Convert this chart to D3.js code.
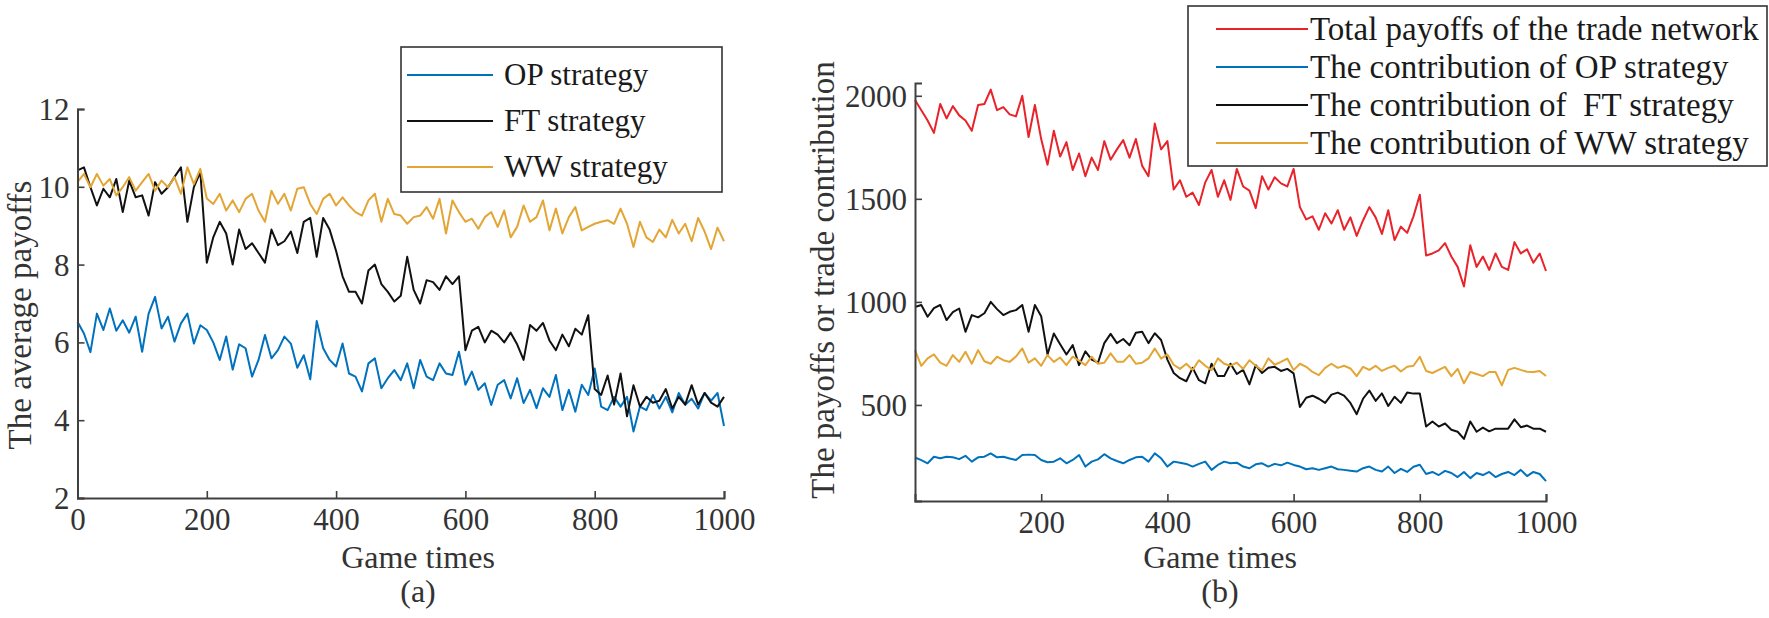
<!DOCTYPE html>
<html>
<head>
<meta charset="utf-8">
<script src="https://cdn.jsdelivr.net/npm/d3@7"></script>
<style>
  body { margin: 0; background: #fff; }
  text { font-family: "Liberation Serif", "Times New Roman", serif; }
</style>
</head>
<body>
<svg id="fig" width="1769" height="618"></svg>
<script>
// game times, one reading every 10 steps
const gameTimes = d3.range(0, 1001, 10);

// panel (a): average payoffs
const opAvg = [
  6.53, 6.23, 5.75, 6.74, 6.32, 6.87, 6.3, 6.57, 6.25, 6.66,
  5.76, 6.74, 7.17, 6.36, 6.66, 6.02, 6.49, 6.74, 5.97, 6.44,
  6.32, 6.0, 5.55, 6.15, 5.3, 5.95, 5.85, 5.12, 5.55, 6.19,
  5.59, 5.8, 6.15, 5.97, 5.35, 5.67, 5.05, 6.55, 5.85, 5.55,
  5.38, 5.97, 5.2, 5.12, 4.74, 5.46, 5.59, 4.82, 5.08, 5.29,
  5.03, 5.46, 4.82, 5.55, 5.12, 5.03, 5.46, 5.2, 5.16, 5.76,
  4.91, 5.25, 4.78, 4.95, 4.39, 4.91, 5.03, 4.56, 5.08, 4.44,
  4.78, 4.31, 4.82, 4.6, 5.16, 4.26, 4.78, 4.22, 4.91, 4.65,
  5.33, 4.35, 4.26, 4.6, 4.35, 4.6, 3.71, 4.35, 4.26, 4.65,
  4.3, 4.6, 4.2, 4.7, 4.4, 4.55, 4.3, 4.7, 4.5, 4.7,
  3.85
];
const ftAvg = [
  10.42, 10.5, 9.99, 9.52, 9.95, 9.73, 10.2, 9.35, 10.16, 9.73,
  9.78, 9.26, 10.12, 9.82, 9.99, 10.25, 10.5, 9.1, 9.99, 10.38,
  8.05, 8.7, 9.1, 8.8, 8.0, 8.9, 8.4, 8.55, 8.3, 8.05,
  8.9, 8.5, 8.6, 8.85, 8.3, 9.1, 9.2, 8.2, 9.2, 8.9,
  8.35, 7.7, 7.3, 7.3, 7.0, 7.85, 8.0, 7.5, 7.3, 7.05,
  7.2, 8.2, 7.35, 7.0, 7.6, 7.55, 7.35, 7.7, 7.5, 7.7,
  5.8, 6.3, 6.4, 6.0, 6.3, 6.2, 6.0, 6.25, 5.95, 5.55,
  6.45, 6.3, 6.5, 6.05, 5.8, 6.2, 5.9, 6.35, 6.2, 6.7,
  4.8, 4.65, 5.15, 4.4, 5.2, 4.1, 4.9, 4.35, 4.6, 4.45,
  4.5, 4.8, 4.3, 4.6, 4.4, 4.9, 4.4, 4.7, 4.45, 4.35,
  4.6
];
const wwAvg = [
  10.12, 10.33, 9.99, 10.33, 10.03, 10.2, 9.78, 9.99, 10.25, 9.9,
  10.12, 10.33, 9.9, 10.16, 9.99, 10.25, 9.82, 10.5, 10.07, 10.46,
  9.7, 9.56, 9.82, 9.39, 9.65, 9.35, 9.69, 9.82, 9.39, 9.1,
  9.9, 9.56, 9.82, 9.39, 9.95, 9.99, 9.56, 9.3, 9.69, 9.82,
  9.52, 9.73, 9.52, 9.35, 9.26, 9.65, 9.82, 9.1, 9.69, 9.3,
  9.26, 9.05, 9.22, 9.26, 9.48, 9.18, 9.69, 8.8, 9.65, 9.35,
  9.1, 9.18, 8.92, 9.22, 9.35, 8.97, 9.39, 8.7, 8.97, 9.52,
  9.1, 9.22, 9.65, 8.88, 9.44, 8.8, 9.22, 9.48, 8.88, 8.97,
  9.05, 9.1, 9.14, 9.05, 9.44, 9.05, 8.45, 9.1, 8.7, 8.58,
  8.9, 8.7, 9.15, 8.8, 9.05, 8.6, 9.2, 8.85, 8.4, 8.95,
  8.6
];

// panel (b): total payoffs and contributions
const totalPay = [
  1980, 1930, 1880, 1820, 1960, 1890, 1950, 1905, 1880, 1830,
  1955, 1960, 2030, 1930, 1945, 1910, 1900, 2000, 1800, 1955,
  1790, 1665, 1830, 1705, 1775, 1640, 1720, 1610, 1700, 1640,
  1780, 1690, 1740, 1785, 1700, 1790, 1660, 1610, 1865, 1740,
  1780, 1545, 1590, 1510, 1530, 1470, 1580, 1640, 1510, 1590,
  1495, 1645, 1560, 1540, 1455, 1610, 1545, 1605, 1575, 1560,
  1645, 1460, 1400, 1415, 1350, 1430, 1380, 1445, 1350, 1410,
  1320, 1395, 1460, 1410, 1330, 1445, 1300, 1365, 1335, 1415,
  1520, 1225, 1235, 1250, 1285, 1220, 1170, 1075, 1275, 1170,
  1220, 1155, 1235, 1170, 1155, 1290, 1235, 1255, 1190, 1235,
  1150
];
const opContrib = [
  245, 232, 217, 249, 241, 249, 246, 237, 253, 225,
  246, 249, 265, 246, 249, 240, 233, 257, 259, 257,
  233, 222, 225, 241, 217, 233, 257, 201, 225, 236,
  261, 241, 228, 217, 233, 246, 249, 225, 265, 241,
  201, 225, 220, 214, 201, 214, 225, 185, 209, 225,
  217, 220, 201, 193, 212, 217, 201, 214, 207, 220,
  209, 201, 188, 193, 185, 193, 201, 188, 185, 181,
  177, 193, 201, 185, 177, 201, 170, 190, 175, 200,
  210, 165, 175, 160, 180, 170, 150, 175, 145, 170,
  160, 175, 150, 165, 175, 160, 185, 155, 175, 165,
  130
];
const ftContrib = [
  975, 985, 928, 970, 985, 912, 950, 968, 855, 936,
  925, 945, 1000, 965, 936, 952, 960, 985, 855, 985,
  930, 745, 847, 795, 745, 790, 693, 760, 720, 705,
  800, 845, 800, 820, 790, 850, 855, 800, 848, 815,
  720, 655, 630, 615, 680, 620, 605, 700, 640, 640,
  700, 650, 670, 600, 693, 655, 680, 685, 665, 675,
  653, 490, 535, 545, 530, 510, 550, 560, 545, 510,
  455, 530, 570, 520, 556, 495, 540, 510, 560, 555,
  556, 395, 420, 395, 410, 380, 370, 335, 420, 370,
  390, 372, 385, 385, 385, 430, 392, 400, 385, 385,
  370
];
const wwContrib = [
  766, 690, 726, 745, 705, 690, 742, 709, 758, 700,
  766, 712, 700, 734, 717, 709, 735, 774, 705, 726,
  690, 742, 709, 730, 693, 734, 715, 693, 734, 700,
  705, 750, 710, 709, 742, 700, 705, 726, 774, 725,
  745, 695, 675, 700, 670, 717, 690, 669, 726, 700,
  690, 705, 675, 717, 690, 669, 726, 695, 709, 725,
  669, 700, 685, 660, 645, 680, 700, 680, 690, 677,
  640, 685, 670, 690, 665, 680, 690, 662, 685, 690,
  734, 665, 655, 670, 685, 640, 675, 605, 660, 650,
  640, 660, 660, 595, 670, 680, 670, 661, 660, 665,
  640
];

const ticksA_x = [0, 200, 400, 600, 800, 1000];
const ticksA_y = [2, 4, 6, 8, 10, 12];
const ticksB_x = [200, 400, 600, 800, 1000];
const ticksB_y = [500, 1000, 1500, 2000];

const colBlue = "#0072bd", colBlack = "#111111", colGold = "#e3a534", colRed = "#e8232a";
const axisCol = "#404040", textCol = "#333333";

const svg = d3.select("#fig");

function drawPanel(p) {
  const x = d3.scaleLinear().domain(p.xDomain).range(p.xRange);
  const y = d3.scaleLinear().domain(p.yDomain).range(p.yRange);
  const g = svg.append("g");

  // series
  const line = d3.line()
    .x((d, i) => x(gameTimes[i]))
    .y(d => y(d))
    .curve(d3.curveLinear);
  p.series.forEach(s => {
    g.append("path")
      .attr("d", line(s.values))
      .attr("fill", "none")
      .attr("stroke", s.color)
      .attr("stroke-width", 2)
      .attr("stroke-linejoin", "round");
  });

  // axes (inward ticks, no box)
  const xAxis = d3.axisBottom(x).tickValues(p.xTicks).tickSize(-7).tickPadding(10).tickFormat(d3.format("d"));
  const yAxis = d3.axisLeft(y).tickValues(p.yTicks).tickSize(-7).tickPadding(8).tickFormat(d3.format("d"));
  const gx = g.append("g").attr("transform", `translate(0,${p.yRange[0]})`).call(xAxis);
  const gy = g.append("g").attr("transform", `translate(${p.xRange[0]},0)`).call(yAxis);
  [gx, gy].forEach(a => {
    a.select(".domain").attr("stroke", axisCol).attr("stroke-width", 2);
    a.selectAll(".tick line").attr("stroke", axisCol).attr("stroke-width", 1.6);
    a.selectAll(".tick text").attr("fill", textCol).style("font-size", "31px")
      .style("font-family", "Liberation Serif, serif");
  });
  gx.selectAll(".tick text").attr("dy", "0.72em");
  gy.selectAll(".tick text").attr("dy", "0.34em");

  // labels
  g.append("text").attr("x", p.xLabelX).attr("y", 568).attr("text-anchor", "middle")
    .attr("fill", textCol).style("font-size", "32px").text("Game times");
  g.append("text").attr("x", p.xLabelX).attr("y", 602).attr("text-anchor", "middle")
    .attr("fill", textCol).style("font-size", "32px").text(p.tag);
  g.append("text")
    .attr("transform", `translate(${p.yLabelX},${p.yLabelY}) rotate(-90)`)
    .attr("text-anchor", "middle").attr("fill", textCol)
    .style("font-size", p.yLabelSize + "px").text(p.yLabel);

  // legend
  const L = p.legend;
  const lg = g.append("g");
  lg.append("rect").attr("x", L.x).attr("y", L.y).attr("width", L.w).attr("height", L.h)
    .attr("fill", "#fff").attr("stroke", "#333").attr("stroke-width", 1.6);
  p.series.forEach((s, i) => {
    const yy = L.firstY + i * L.step;
    lg.append("line").attr("x1", L.lineX1).attr("x2", L.lineX2).attr("y1", yy).attr("y2", yy)
      .attr("stroke", s.color).attr("stroke-width", 2);
    lg.append("text").attr("x", L.textX).attr("y", yy).attr("dy", "0.33em")
      .attr("fill", "#1a1a1a").style("font-size", L.fontSize + "px")
      .style("white-space", "pre").text(s.name);
  });
}

drawPanel({
  xDomain: [0, 1000], xRange: [77.5, 724],
  yDomain: [2, 12], yRange: [498, 109],
  xTicks: ticksA_x, yTicks: ticksA_y,
  xLabelX: 418, tag: "(a)",
  yLabel: "The average payoffs", yLabelX: 31, yLabelY: 315, yLabelSize: 33,
  series: [
    { name: "OP strategy", values: opAvg, color: colBlue },
    { name: "FT strategy", values: ftAvg, color: colBlack },
    { name: "WW strategy", values: wwAvg, color: colGold }
  ],
  legend: { x: 401, y: 47, w: 321, h: 145, firstY: 75, step: 46,
            lineX1: 407, lineX2: 493, textX: 504, fontSize: 31 }
});

drawPanel({
  xDomain: [0, 1000], xRange: [915, 1546],
  yDomain: [34, 2062], yRange: [501, 83],
  xTicks: ticksB_x, yTicks: ticksB_y,
  xLabelX: 1220, tag: "(b)",
  yLabel: "The payoffs or trade contribution", yLabelX: 834, yLabelY: 280, yLabelSize: 33,
  series: [
    { name: "Total payoffs of the trade network", values: totalPay, color: colRed },
    { name: "The contribution of OP strategy", values: opContrib, color: colBlue },
    { name: "The contribution of  FT strategy", values: ftContrib, color: colBlack },
    { name: "The contribution of WW strategy", values: wwContrib, color: colGold }
  ],
  legend: { x: 1188, y: 6, w: 579, h: 160, firstY: 29, step: 38,
            lineX1: 1216, lineX2: 1308, textX: 1310, fontSize: 33 }
});
</script>
</body>
</html>
